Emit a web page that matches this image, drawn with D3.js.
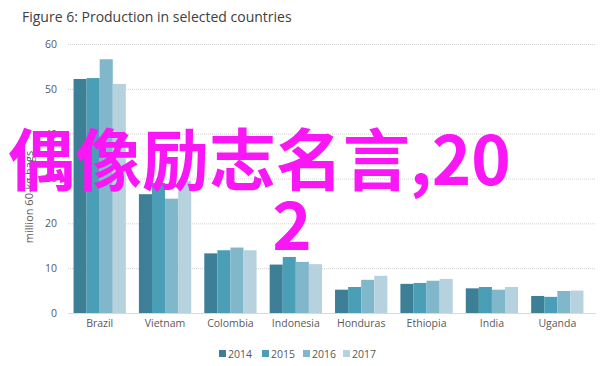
<!DOCTYPE html>
<html lang="en">
<head>
  <meta charset="UTF-8">
  <title>Figure 6</title>
  <style>
    body { margin: 0; background: #fff; }
    svg { display: block; font-family: 'Open Sans', 'Liberation Sans', sans-serif; }
  </style>
</head>
<body>
  <svg class="bar-chart"></svg>
  <script src="https://cdn.jsdelivr.net/npm/d3@7"></script>
  <script>
    let countries = ['Brazil', 'Vietnam', 'Colombia', 'Indonesia', 'Honduras', 'Ethiopia', 'India', 'Uganda']
    let years = ['2014', '2015', '2016', '2017']
    let v2014 = [52.2, 26.5, 13.3, 10.8, 5.2, 6.5, 5.5, 3.8]
    let v2015 = [52.4, 29.0, 14.0, 12.5, 5.8, 6.7, 5.8, 3.6]
    let v2016 = [56.6, 25.5, 14.6, 11.4, 7.4, 7.2, 5.2, 4.9]
    let v2017 = [51.1, 29.5, 14.0, 10.9, 8.3, 7.6, 5.8, 5.0]
    let yTicks = [0, 10, 20, 30, 40, 50, 60]
    let overlayText = ['偶像励志名言,20', '2']

    let series = [v2014, v2015, v2016, v2017]
    let colors = ['#3c7f97', '#4a9fb6', '#80b7cb', '#b6d2de']

    let svgWidth = 612, svgHeight = 366
    let svg = d3.select('svg')
      .attr('width', svgWidth)
      .attr('height', svgHeight)

    let margin = { left: 67, right: 20, top: 44, bottom: 53 }
    let x = d3.scaleBand().domain(countries)
      .range([margin.left, svgWidth - margin.right - 2])
      .paddingInner(0.2).paddingOuter(0.1)
    let xInner = d3.scaleBand().domain(years).range([0, x.bandwidth()])
    let y = d3.scaleLinear().domain([0, 60]).range([313, 44])

    // title
    svg.append('text')
      .attr('x', 22).attr('y', 22)
      .attr('font-size', 14).attr('fill', '#404040')
      .text('Figure 6: Production in selected countries')

    // grid
    svg.append('g')
      .selectAll('line')
      .data(yTicks.filter(d => d > 0))
      .enter().append('line')
      .attr('x1', 68).attr('x2', 596)
      .attr('y1', d => y(d) + 0.5).attr('y2', d => y(d) + 0.5)
      .attr('stroke', '#d0d0d0').attr('stroke-dasharray', '1,1')

    // y axis labels
    let yAxis = d3.axisLeft(y).tickValues(yTicks).tickSize(0).tickPadding(0)
    svg.append('g')
      .attr('transform', 'translate(57,0)')
      .call(yAxis)
      .call(g => g.select('.domain').remove())
      .selectAll('text')
      .attr('font-size', 10.5).attr('fill', '#595959')
      .attr('font-family', "'Open Sans', sans-serif")

    svg.append('text')
      .attr('transform', 'translate(33,197) rotate(-90)')
      .attr('text-anchor', 'middle')
      .attr('font-size', 11).attr('fill', '#595959')
      .text('million 60-kg bags')

    // bars
    let groups = svg.append('g')
      .selectAll('g')
      .data(series)
      .enter().append('g')
      .attr('fill', (d, i) => colors[i])

    groups.selectAll('rect')
      .data((d, i) => d.map((v, j) => ({ c: countries[j], yr: years[i], v: v })))
      .enter().append('rect')
      .attr('x', d => x(d.c) + xInner(d.yr))
      .attr('width', xInner.bandwidth())
      .attr('y', d => y(d.v))
      .attr('height', d => y(0) - y(d.v))

    // x axis
    svg.append('line')
      .attr('x1', 68).attr('x2', 596)
      .attr('y1', y(0) + 0.5).attr('y2', y(0) + 0.5)
      .attr('stroke', '#d9d9d9')

    let xAxis = d3.axisBottom(x).tickSize(0).tickPadding(0)
    svg.append('g')
      .attr('transform', 'translate(0,' + 320 + ')')
      .call(xAxis)
      .call(g => g.select('.domain').remove())
      .selectAll('text')
      .attr('font-size', 10.5).attr('fill', '#595959')
      .attr('font-family', "'Open Sans', sans-serif")

    // legend
    let legendX = [219, 262, 303, 343]
    let legend = svg.append('g')
      .selectAll('g')
      .data(years)
      .enter().append('g')
      .attr('transform', (d, i) => 'translate(' + legendX[i] + ',350)')
    legend.append('rect')
      .attr('width', 7).attr('height', 7)
      .attr('fill', (d, i) => colors[i])
    legend.append('text')
      .attr('x', 9).attr('y', 7.5)
      .attr('font-size', 10.5).attr('fill', '#595959')
      .text(d => d)

    // magenta overlay text
    let ov = svg.append('g')
      .attr('font-family', "'Noto Sans CJK SC', sans-serif")
      .attr('font-weight', 'bold')
      .attr('fill', '#f917f5')
      .attr('font-size', 67)
    ov.append('text').attr('x', 8).attr('y', 185).text(overlayText[0])
    ov.append('text').attr('x', 292).attr('y', 250).attr('text-anchor', 'middle').text(overlayText[1])
  </script>
</body>
</html>
